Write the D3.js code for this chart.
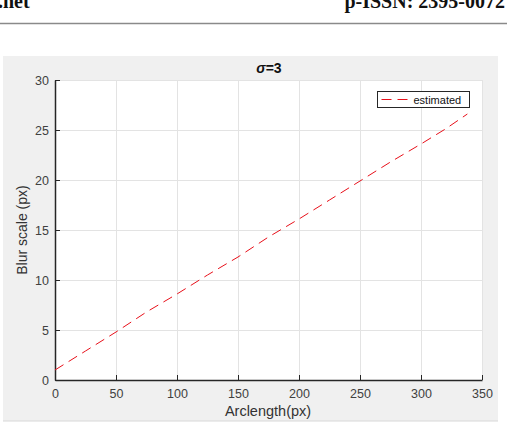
<!DOCTYPE html>
<html>
<head>
<meta charset="utf-8">
<script src="https://cdn.jsdelivr.net/npm/d3@7"></script>
<style>
  body { margin: 0; background: #fff; }
  svg { display: block; }
</style>
</head>
<body>
<div id="chart"></div>
<script>
// data
var arclength = [0, 25, 50, 75, 100, 125, 150, 175, 200, 225, 250, 275, 300, 320, 338];
var blurScale = [1.0, 2.9, 4.8, 6.8, 8.6, 10.5, 12.3, 14.3, 16.1, 18.0, 19.9, 21.8, 23.6, 25.1, 26.6];
var xTicks = [0, 50, 100, 150, 200, 250, 300, 350];
var yTicks = [0, 5, 10, 15, 20, 25, 30];

var width = 507, height = 422;
var svg = d3.select("#chart").append("svg")
    .attr("width", width)
    .attr("height", height);

// page header from the paper (cut off at the top like the scan)
svg.append("text")
    .attr("x", -2).attr("y", 8)
    .attr("font-family", "Liberation Serif")
    .attr("font-weight", "bold")
    .attr("font-size", "20px")
    .attr("fill", "#111")
    .text(".net");
svg.append("text")
    .attr("x", 505).attr("y", 8)
    .attr("text-anchor", "end")
    .attr("font-family", "Liberation Serif")
    .attr("font-weight", "bold")
    .attr("font-size", "20px")
    .attr("fill", "#111")
    .text("p-ISSN: 2395-0072");
svg.append("line")
    .attr("x1", 0).attr("x2", width)
    .attr("y1", 23.5).attr("y2", 23.5)
    .attr("stroke", "#8a8a8a")
    .attr("stroke-width", 1.5);

// figure background
svg.append("rect")
    .attr("x", 3).attr("y", 56)
    .attr("width", 495).attr("height", 365)
    .attr("fill", "#f0f0f0");
svg.append("line")
    .attr("x1", 3).attr("x2", 498)
    .attr("y1", 421).attr("y2", 421)
    .attr("stroke", "#d8d8d8");

var plot = {left: 55, right: 482, top: 80, bottom: 380};

var x = d3.scaleLinear().domain([0, 350]).range([plot.left, plot.right]);
var y = d3.scaleLinear().domain([0, 30]).range([plot.bottom, plot.top]);

svg.append("rect")
    .attr("x", plot.left).attr("y", plot.top)
    .attr("width", plot.right - plot.left)
    .attr("height", plot.bottom - plot.top)
    .attr("fill", "#fff");

// grid
svg.append("g")
    .selectAll("line")
    .data(xTicks)
    .enter()
    .append("line")
    .attr("x1", function (d) { return x(d) + 0.5; })
    .attr("x2", function (d) { return x(d) + 0.5; })
    .attr("y1", plot.top).attr("y2", plot.bottom)
    .attr("stroke", "#e3e3e3");
svg.append("g")
    .selectAll("line")
    .data(yTicks)
    .enter()
    .append("line")
    .attr("y1", function (d) { return y(d) + 0.5; })
    .attr("y2", function (d) { return y(d) + 0.5; })
    .attr("x1", plot.left).attr("x2", plot.right)
    .attr("stroke", "#e3e3e3");

// axes (ticks pointing inward, matlab style)
var xAxis = d3.axisBottom(x).tickValues(xTicks).tickSizeInner(-5).tickSizeOuter(0).tickPadding(9);
var yAxis = d3.axisLeft(y).tickValues(yTicks).tickSizeInner(-5).tickSizeOuter(0).tickPadding(6);

var gx = svg.append("g")
    .attr("transform", "translate(0," + plot.bottom + ")")
    .call(xAxis);
var gy = svg.append("g")
    .attr("transform", "translate(" + plot.left + ",0)")
    .call(yAxis);
[gx, gy].forEach(function (g) {
    g.select(".domain").attr("stroke", "#262626").attr("stroke-width", 1.5);
    g.selectAll(".tick line").attr("stroke", "#262626");
    g.selectAll(".tick text")
        .attr("fill", "#404040")
        .attr("font-family", "Liberation Sans")
        .attr("font-size", "12.5px");
});

// data line
var line = d3.line()
    .x(function (d, i) { return x(arclength[i]); })
    .y(function (d) { return y(d); });
svg.append("path")
    .datum(blurScale)
    .attr("d", line)
    .attr("fill", "none")
    .attr("stroke", "#e8101a")
    .attr("stroke-width", 1)
    .attr("stroke-dasharray", "10,6");

// title
var title = svg.append("text")
    .attr("x", 269).attr("y", 73)
    .attr("text-anchor", "middle")
    .attr("font-family", "Liberation Sans")
    .attr("font-weight", "bold")
    .attr("font-size", "14px")
    .attr("fill", "#111");
title.append("tspan").attr("font-style", "italic").text("σ");
title.append("tspan").text("=3");

// axis labels
svg.append("text")
    .attr("x", 268).attr("y", 416)
    .attr("text-anchor", "middle")
    .attr("font-family", "Liberation Sans")
    .attr("font-size", "14.5px")
    .attr("fill", "#333")
    .text("Arclength(px)");
svg.append("text")
    .attr("transform", "translate(27,230) rotate(-90)")
    .attr("text-anchor", "middle")
    .attr("font-family", "Liberation Sans")
    .attr("font-size", "14px")
    .attr("fill", "#333")
    .text("Blur scale (px)");

// legend
var legend = svg.append("g").attr("transform", "translate(377.5,91.5)");
legend.append("rect")
    .attr("width", 92).attr("height", 16)
    .attr("fill", "#fff")
    .attr("stroke", "#262626");
legend.append("line")
    .attr("x1", 4).attr("x2", 30)
    .attr("y1", 8).attr("y2", 8)
    .attr("stroke", "#e8101a")
    .attr("stroke-dasharray", "10,6");
legend.append("text")
    .attr("x", 36).attr("y", 12)
    .attr("font-family", "Liberation Sans")
    .attr("font-size", "11px")
    .attr("fill", "#111")
    .text("estimated");
</script>
</body>
</html>
